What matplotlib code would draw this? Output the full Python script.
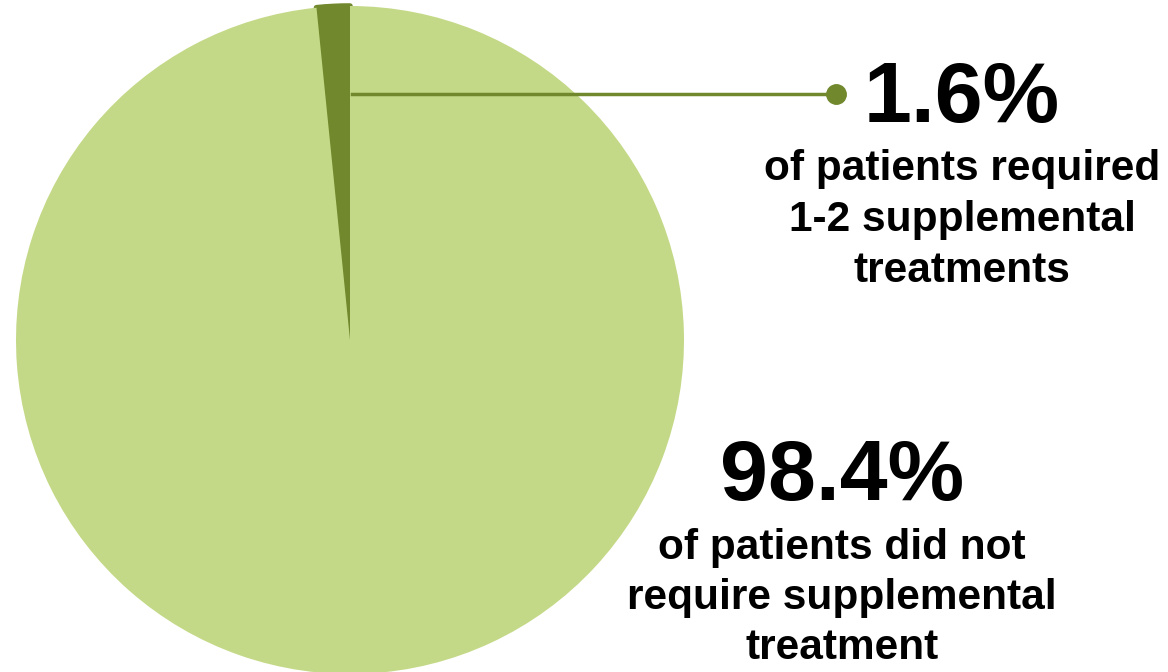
import matplotlib.pyplot as plt

shares = [1.6, 98.4]
pct_labels = ["1.6%", "98.4%"]
desc_labels = ["of patients required\n1-2 supplemental\ntreatments",
               "of patients did not\nrequire supplemental\ntreatment"]
colors = ["#71882C", "#C4D987"]

W, H = 1168, 672
fig = plt.figure(figsize=(W / 100, H / 100), dpi=100)
plt.rcParams['font.family'] = ['Liberation Sans', 'DejaVu Sans']

# pie centre (350, 340) px, radius 334 px
cx, cy, r = 350, 340, 334
ax = fig.add_axes([(cx - r) / W, (H - cy - r) / H, 2 * r / W, 2 * r / H])
wedges, _ = ax.pie(shares, colors=colors, startangle=90, counterclock=True,
                   radius=1, wedgeprops=dict(linewidth=0))
# small slice gets a round-joined outline so its corners look soft
wedges[0].set_edgecolor(colors[0])
wedges[0].set_linewidth(4)
wedges[0].set_joinstyle('round')
ax.set_xlim(-1, 1)
ax.set_ylim(-1, 1)
ax.set_aspect('equal')
ax.axis('off')


def px(x, y):
    return x / W, 1 - y / H


# leader line from the small slice to its label
lx0, ly = px(352, 94)
lx1, _ = px(836, 94)
fig.add_artist(plt.Line2D([lx0, lx1], [ly, ly], color=colors[0], lw=2.5))
fig.add_artist(plt.Line2D([lx1], [ly], marker='o', markersize=14,
                          color=colors[0], lw=0))

# label blocks: (centre x, baseline of big number, baseline of first line)
blocks = [(962, 122, 180), (842, 500, 559)]
line_step = [51, 50]

for i, (xc, y_pct, y_desc) in enumerate(blocks):
    x, y = px(xc, y_pct)
    fig.text(x, y, pct_labels[i], fontsize=62, fontweight='bold',
             ha='center', va='baseline')
    for j, line in enumerate(desc_labels[i].split("\n")):
        x, y = px(xc, y_desc + j * line_step[i])
        fig.text(x, y, line, fontsize=30.5, fontweight='bold',
                 ha='center', va='baseline')

fig.savefig("out.png", dpi=100)
